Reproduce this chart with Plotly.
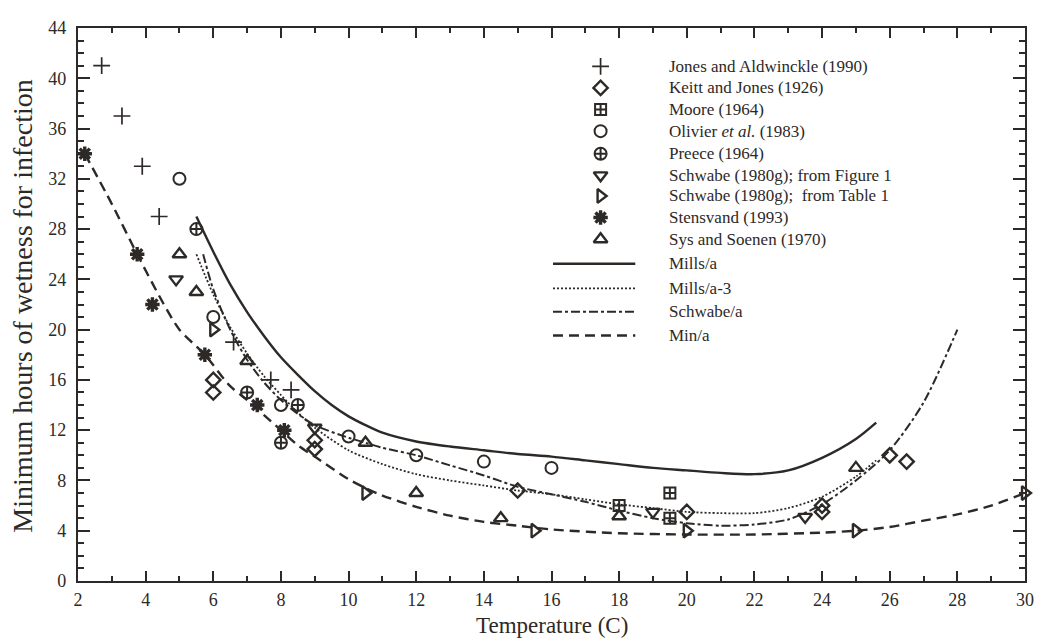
import plotly.graph_objects as go

# ---------------- data ----------------
jones_x = [2.7, 3.3, 3.9, 4.4, 6.6, 7.7, 8.3]
jones_y = [41, 37, 33, 29, 19, 16, 15.2]

keitt_x = [6, 6, 9, 9, 15, 20, 24, 24, 26, 26.5]
keitt_y = [16, 15, 11.2, 10.5, 7.2, 5.5, 6.0, 5.5, 10, 9.5]

moore_x = [18, 19.5, 19.5]
moore_y = [6, 7, 5]

olivier_x = [5, 6, 8, 10, 12, 14, 16]
olivier_y = [32, 21, 14, 11.5, 10, 9.5, 9]

preece_x = [5.5, 7, 8, 8.5]
preece_y = [28, 15, 11, 14]

schwabe_fig_x = [4.9, 9, 19, 23.5]
schwabe_fig_y = [24, 12.2, 5.5, 5.1]

schwabe_tab_x = [6, 10.5, 15.5, 20, 25, 30]
schwabe_tab_y = [20, 7, 4, 4, 4, 7]

stensvand_x = [2.2, 3.75, 4.2, 5.75, 7.3, 8.1]
stensvand_y = [34, 26, 22, 18, 14, 12]

sys_x = [5, 5.5, 7, 10.5, 12, 14.5, 18, 25]
sys_y = [26, 23, 17.5, 11, 7, 5, 5.15, 9]

mills_x = [5.5, 6, 6.5, 7, 7.5, 8, 8.5, 9, 9.5, 10, 10.5, 11, 12, 13, 14, 15, 16, 17, 18, 19, 20, 21, 22, 23, 24, 25, 25.6]
mills_y = [29, 26.2, 23.6, 21.4, 19.5, 17.8, 16.4, 15.1, 14.0, 13.1, 12.4, 11.8, 11.1, 10.7, 10.4, 10.1, 9.9, 9.6, 9.3, 9.0, 8.8, 8.6, 8.5, 8.8, 9.8, 11.3, 12.6]

mills3_x = [5.5, 6, 6.5, 7, 7.5, 8, 8.5, 9, 10, 11, 12, 13, 14, 15, 16, 17, 18, 19, 20, 21, 22, 23, 24, 25, 25.6]
mills3_y = [26, 22.8, 20.2, 18.1, 16.3, 14.8, 13.4, 12.2, 10.4, 9.3, 8.5, 8.0, 7.6, 7.2, 6.9, 6.5, 6.1, 5.8, 5.5, 5.4, 5.4, 5.8, 6.7, 8.3, 9.6]

schwabe_x = [5.7, 6, 6.5, 7, 7.5, 8, 8.5, 9, 10, 10.5, 11, 12, 13, 14, 15, 16, 17, 18, 19, 20, 21, 22, 23, 24, 25, 26, 27, 28]
schwabe_y = [26, 23.2, 20, 17.6, 15.8, 14.4, 13.3, 12.4, 11.4, 11.0, 10.6, 10.0, 9.2, 8.4, 7.5, 6.9, 6.3, 5.6, 5.0, 4.6, 4.4, 4.5, 4.9, 6.1, 8.0, 10.4, 14.2, 20]

min_x = [2.2, 3, 3.75, 4.5, 5, 5.75, 6.5, 7, 7.5, 8, 8.5, 9, 10, 10.5, 11, 12, 13, 14, 15, 16, 18, 20, 22, 24, 25, 26, 27, 28, 29, 30]
min_y = [34, 30, 26, 22.2, 20, 18, 15.5, 14.4, 13.2, 12, 10.8, 9.9, 8.1, 7.4, 6.8, 5.9, 5.2, 4.7, 4.4, 4.1, 3.8, 3.7, 3.7, 3.85, 4.0, 4.3, 4.8, 5.3, 6.0, 7.0]

x_ticks = [2, 4, 6, 8, 10, 12, 14, 16, 18, 20, 22, 24, 26, 28, 30]
y_ticks = [0, 4, 8, 12, 16, 20, 24, 28, 32, 36, 40, 44]

marker_labels = [
    "Jones and Aldwinckle (1990)",
    "Keitt and Jones (1926)",
    "Moore (1964)",
    "Olivier <i>et al.</i> (1983)",
    "Preece (1964)",
    "Schwabe (1980g); from Figure 1",
    "Schwabe (1980g);  from Table 1",
    "Stensvand (1993)",
    "Sys and Soenen (1970)",
]
line_labels = ["Mills/a", "Mills/a-3", "Schwabe/a", "Min/a"]

# ---------------- styling ----------------
INK = "#2d2927"
FONT = "Liberation Serif"

marker_sets = [
    (jones_x, jones_y, "cross-thin-open", 12, 1.7),
    (keitt_x, keitt_y, "diamond-open", 11, 2.4),
    (moore_x, moore_y, "square-cross-open", 11, 2.0),
    (olivier_x, olivier_y, "circle-open", 12, 2.0),
    (preece_x, preece_y, "circle-cross-open", 12, 2.0),
    (schwabe_fig_x, schwabe_fig_y, "triangle-down-open", 12, 2.4),
    (schwabe_tab_x, schwabe_tab_y, "triangle-right-open", 12, 2.4),
    (stensvand_x, stensvand_y, "asterisk-open", 12, 3.4),
    (sys_x, sys_y, "triangle-up-open", 12, 2.4),
]

line_sets = [
    (mills_x, mills_y, "solid", 2.4),
    (mills3_x, mills3_y, "2px,2px", 1.8),
    (schwabe_x, schwabe_y, "9px,3px,3px,3px", 2.0),
    (min_x, min_y, "10px,6px", 2.4),
]

fig = go.Figure()

for lx, ly, dash, w in line_sets:
    fig.add_trace(go.Scatter(
        x=lx, y=ly, mode="lines",
        line=dict(color=INK, width=w, dash=dash, shape="spline", smoothing=0.8),
        showlegend=False, hoverinfo="skip"))

for mx, my, sym, size, lw in marker_sets:
    fig.add_trace(go.Scatter(
        x=mx, y=my, mode="markers", cliponaxis=False,
        marker=dict(symbol=sym, size=size, color=INK, line=dict(color=INK, width=lw)),
        showlegend=False, hoverinfo="skip"))

# ---------------- manual legend on a pixel-like overlay axis ----------------
LEG_SYM_X = 605
LEG_TEXT_X = 672
marker_rows = [57, 79, 101, 123, 146, 168, 189, 211, 233]
line_rows = [258, 283, 307, 331]
LINE_X0, LINE_X1 = 557, 640

for (mx, my, sym, size, lw), row, lab in zip(marker_sets, marker_rows, marker_labels):
    fig.add_trace(go.Scatter(
        x=[LEG_SYM_X], y=[row], xaxis="x2", yaxis="y2", mode="markers",
        marker=dict(symbol=sym, size=size, color=INK, line=dict(color=INK, width=lw)),
        showlegend=False, hoverinfo="skip"))
    fig.add_annotation(x=LEG_TEXT_X, y=row, xref="x2", yref="y2", text=lab,
                       showarrow=False, xanchor="left", yanchor="middle",
                       font=dict(family=FONT, size=17, color=INK))

for (lx, ly, dash, w), row, lab in zip(line_sets, line_rows, line_labels):
    fig.add_trace(go.Scatter(
        x=[LINE_X0, LINE_X1], y=[row, row], xaxis="x2", yaxis="y2", mode="lines",
        line=dict(color=INK, width=w, dash=dash),
        showlegend=False, hoverinfo="skip"))
    fig.add_annotation(x=LEG_TEXT_X, y=row, xref="x2", yref="y2", text=lab,
                       showarrow=False, xanchor="left", yanchor="middle",
                       font=dict(family=FONT, size=17, color=INK))

# axis titles
fig.add_annotation(x=0.5, y=-0.080, xref="paper", yref="paper", text="Temperature (C)",
                   showarrow=False, xanchor="center", yanchor="middle",
                   font=dict(family=FONT, size=23, color=INK))
fig.add_annotation(x=-0.0586, y=0.497, xref="paper", yref="paper",
                   text="Minimum hours of wetness for infection", textangle=-90,
                   showarrow=False, xanchor="center", yanchor="middle",
                   font=dict(family=FONT, size=28, color=INK))

axis_common = dict(showgrid=False, zeroline=False, showline=True, linecolor=INK, linewidth=2.2,
                   mirror="ticks", ticks="inside", tickcolor=INK, tickwidth=2,
                   tickfont=dict(family=FONT, size=18, color=INK))

# the page body adds an 8px margin, so the figure is 8px smaller and margins are offset
fig.update_layout(
    width=1036, height=631,
    margin=dict(l=70, r=11, t=10, b=58),
    paper_bgcolor="white", plot_bgcolor="white",
    showlegend=False,
    xaxis=dict(range=[2, 30], tickvals=x_ticks, ticklen=10, ticklabelstandoff=1,
               minor=dict(dtick=1, ticks="inside", ticklen=5, tickcolor=INK, tickwidth=1.6),
               **axis_common),
    yaxis=dict(range=[0, 44], tickvals=y_ticks, ticklen=12, ticklabelstandoff=6,
               minor=dict(dtick=1, ticks="inside", ticklen=6, tickcolor=INK, tickwidth=1.6),
               **axis_common),
    xaxis2=dict(overlaying="x", range=[78, 1033], visible=False),
    yaxis2=dict(overlaying="y", range=[581, 18], visible=False),
)

fig.write_html("out.html")
